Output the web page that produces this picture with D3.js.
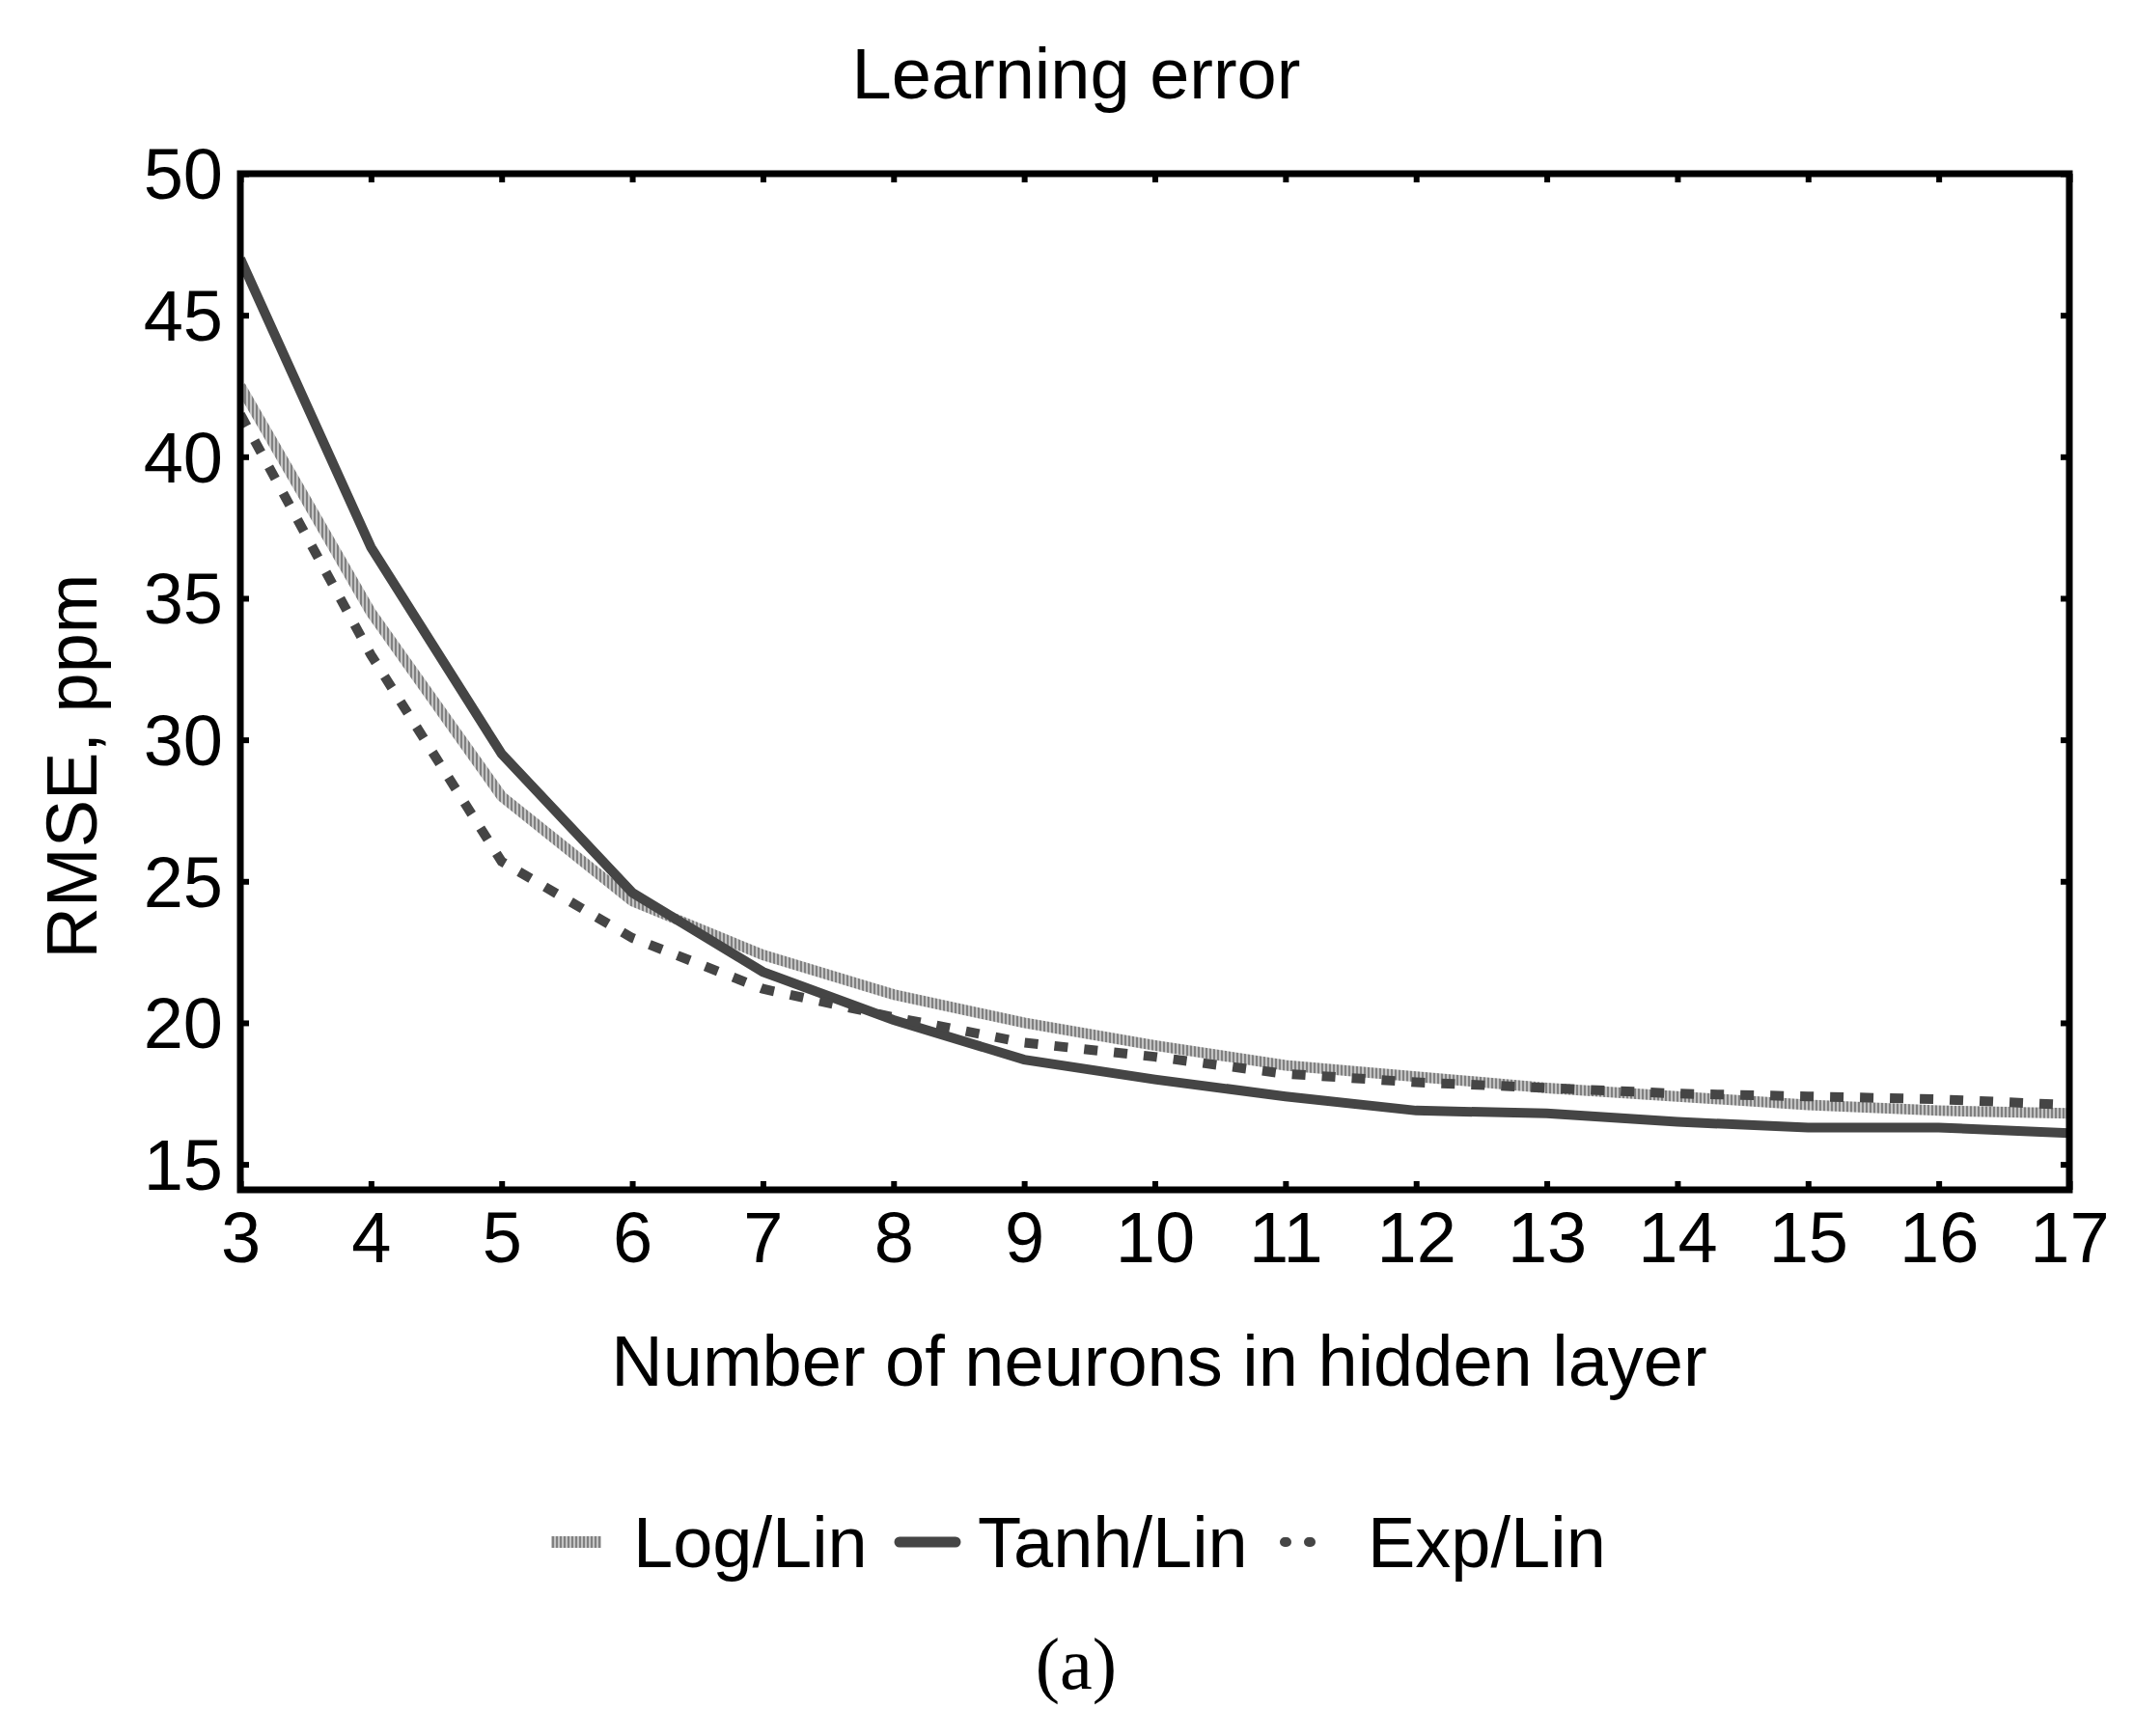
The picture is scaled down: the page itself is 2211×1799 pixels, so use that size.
<!DOCTYPE html>
<html><head><meta charset="utf-8">
<script src="https://cdn.jsdelivr.net/npm/d3@7"></script>
<style>body{margin:0;background:#fff}text{font-family:"Liberation Sans",Arial,sans-serif;fill:#000}</style>
</head><body>
<script>
var neurons = [3,4,5,6,7,8,9,10,11,12,13,14,15,16,17];
var logLin  = [42.5,34.5,28.0,24.3,22.4,21.0,20.0,19.2,18.5,18.1,17.7,17.4,17.1,16.9,16.8];
var tanhLin = [47.0,36.8,29.5,24.6,21.8,20.1,18.7,18.0,17.4,16.9,16.8,16.5,16.3,16.3,16.1];
var expLin  = [41.5,33.0,25.7,23.0,21.2,20.2,19.3,18.8,18.2,17.9,17.7,17.5,17.4,17.3,17.1];
var yTicks = [15,20,25,30,35,40,45,50];

var width = 2211, height = 1799,
    margin = {left: 249, right: 67, top: 180, bottom: 566};
var chartW = width - margin.left - margin.right, chartH = height - margin.top - margin.bottom;

var svg = d3.select('body').append('svg').attr('width', width).attr('height', height);
var x = d3.scaleLinear().domain([3, 17]).range([0, chartW]);
var y = d3.scaleLinear().domain([14.1, 50]).range([chartH, 0]);
var g = svg.append('g').attr('transform', 'translate(' + margin.left + ',' + margin.top + ')');

// hatched pattern for Log/Lin
var pat = svg.append('defs').append('pattern').attr('id', 'hatch')
    .attr('patternUnits', 'userSpaceOnUse').attr('width', 4).attr('height', 4);
pat.append('rect').attr('width', 4).attr('height', 4).attr('fill', '#c4c4c4');
pat.append('rect').attr('width', 2).attr('height', 4).attr('fill', '#808080');

var line = d3.line().x(function(d, i) { return x(neurons[i]); }).y(function(d) { return y(d); });
var series = [
    {name: 'Log/Lin', values: logLin, stroke: 'url(#hatch)', w: 11, dash: null},
    {name: 'Tanh/Lin', values: tanhLin, stroke: '#454545', w: 10, dash: null},
    {name: 'Exp/Lin', values: expLin, stroke: '#454545', w: 10, dash: '14,17'}
];
g.append('clipPath').attr('id', 'clip').append('rect').attr('width', chartW).attr('height', chartH);
series.forEach(function(s) {
    g.append('path').datum(s.values).attr('d', line).attr('fill', 'none')
        .attr('stroke', s.stroke).attr('stroke-width', s.w)
        .attr('stroke-dasharray', s.dash).attr('clip-path', 'url(#clip)');
});

// axes with inward ticks on all four sides
var ax = function(a) { return a.tickSizeInner(-9).tickSizeOuter(0).tickPadding(22); };
var xb = g.append('g').attr('transform', 'translate(0,' + chartH + ')').call(ax(d3.axisBottom(x).tickValues(neurons)));
var yl = g.append('g').call(ax(d3.axisLeft(y).tickValues(yTicks)));
g.append('g').call(ax(d3.axisTop(x).tickValues(neurons)).tickFormat(''));
g.append('g').attr('transform', 'translate(' + chartW + ',0)').call(ax(d3.axisRight(y).tickValues(yTicks)).tickFormat(''));
g.selectAll('.domain').remove();
g.selectAll('.tick line').attr('stroke', '#000').attr('stroke-width', 6);
xb.selectAll('text').attr('font-size', 74).attr('dy', '0.72em');
yl.selectAll('text').attr('font-size', 74).attr('dy', '0.35em').attr('dx', 4);
g.append('rect').attr('width', chartW).attr('height', chartH)
    .attr('fill', 'none').attr('stroke', '#000').attr('stroke-width', 7);

svg.append('text').attr('x', 1115).attr('y', 102).attr('text-anchor', 'middle').attr('font-size', 74).text('Learning error');
svg.append('text').attr('x', 1201).attr('y', 1436).attr('text-anchor', 'middle').attr('font-size', 74).text('Number of neurons in hidden layer');
svg.append('text').attr('transform', 'translate(100,794) rotate(-90)').attr('text-anchor', 'middle').attr('font-size', 74).text('RMSE, ppm');

// legend
var leg = svg.append('g').attr('transform', 'translate(0,1598)');
leg.append('rect').attr('x', 571).attr('y', -6).attr('width', 52).attr('height', 12).attr('fill', 'url(#hatch)');
leg.append('line').attr('x1', 932).attr('x2', 990).attr('stroke', '#454545').attr('stroke-width', 11).attr('stroke-linecap', 'round');
leg.append('line').attr('x1', 1331).attr('x2', 1370).attr('stroke', '#454545').attr('stroke-width', 10)
    .attr('stroke-dasharray', '2,23').attr('stroke-linecap', 'round');
[['Log/Lin', 656], ['Tanh/Lin', 1013], ['Exp/Lin', 1417]].forEach(function(d) {
    leg.append('text').attr('x', d[1]).attr('y', 26).attr('font-size', 74).text(d[0]);
});
svg.append('text').attr('x', 1115).attr('y', 1750).attr('text-anchor', 'middle').attr('font-size', 76)
    .style('font-family', '"Liberation Serif",serif').text('(a)');
</script>
</body></html>
